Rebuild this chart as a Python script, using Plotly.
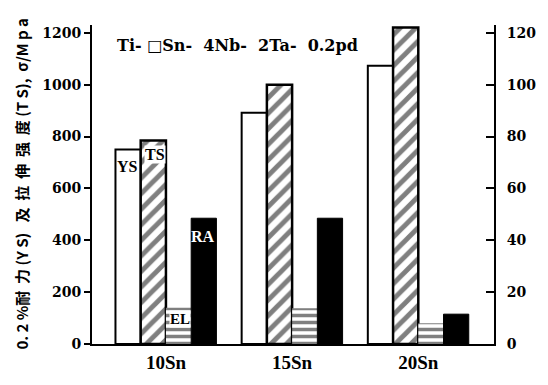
import plotly.graph_objects as go

categories = ["10Sn", "15Sn", "20Sn"]
ys_mpa = [750, 892, 1073]      # 0.2% yield strength (left axis)
ts_mpa = [785, 1000, 1220]     # tensile strength (left axis)
el_pct = [14, 13.8, 8]         # elongation (right axis)
ra_pct = [48.5, 48.5, 11.5]    # reduction of area (right axis)
left_ticks = [0, 200, 400, 600, 800, 1000, 1200]
right_ticks = [0, 20, 40, 60, 80, 100, 120]

serif = "Liberation Serif"
tickserif = "DejaVu Serif"
fig = go.Figure()
fig.add_trace(go.Bar(x=categories, y=ys_mpa, width=0.2, offset=-0.4,
                     marker=dict(color="white", line=dict(color="black", width=2)),
                     yaxis="y", showlegend=False))
fig.add_trace(go.Bar(x=categories, y=ts_mpa, width=0.2, offset=-0.2,
                     marker=dict(color="white", line=dict(color="black", width=2.5),
                                 pattern=dict(shape="/", fgcolor="black", bgcolor="white",
                                              size=11, solidity=0.45)),
                     yaxis="y", showlegend=False))
fig.add_trace(go.Bar(x=categories, y=el_pct, width=0.2, offset=0.0,
                     marker=dict(color="white", line=dict(color="white", width=0),
                                 pattern=dict(shape="-", fgcolor="black", bgcolor="white",
                                              size=7, solidity=0.5)),
                     yaxis="y2", showlegend=False))
fig.add_trace(go.Bar(x=categories, y=ra_pct, width=0.2, offset=0.2,
                     marker=dict(color="black", line=dict(color="black", width=1)),
                     yaxis="y2", showlegend=False))

# page body has an 8px margin; size the figure so the plot lands where the reference has it
PAD = 8
W, H = 540, 377
ml, mr, mt, mb = 84, 48, 17, 40
pw, ph = W - ml - mr, H - mt - mb


def px_x(sx):
    return (sx - PAD - ml) / pw


def px_y(sy):
    return (H - mb - (sy - PAD)) / ph


ann = []
ann.append(dict(text="YS", x=-0.305, y=685, xref="x", yref="y", showarrow=False,
                font=dict(family=serif, size=16, color="black", weight="bold")))
ann.append(dict(text="TS", x=-0.086, y=731, xref="x", yref="y", showarrow=False,
                bgcolor="white", borderpad=0,
                font=dict(family=serif, size=16, color="black", weight="bold")))
ann.append(dict(text="EL", x=0.11, y=9.6, xref="x", yref="y2", showarrow=False,
                bgcolor="white", borderpad=0,
                font=dict(family=serif, size=15, color="black", weight="bold")))
ann.append(dict(text="RA", x=0.297, y=41.5, xref="x", yref="y2", showarrow=False,
                font=dict(family=serif, size=16, color="white", weight="bold")))
ann.append(dict(text="Ti- □Sn-  4Nb-  2Ta-  0.2pd",
                x=px_x(240), y=px_y(46), xref="paper", yref="paper",
                xanchor="center", yanchor="middle", showarrow=False,
                font=dict(family="DejaVu Serif", size=16, color="black", weight="bold")))
ann.append(dict(text="0. 2 %耐  力 (Y S)   及  拉  伸  强  度 (T S),  σ/M p a",
                x=px_x(20), y=px_y(185), xref="paper", yref="paper",
                xanchor="center", yanchor="middle",
                textangle=-90, showarrow=False,
                font=dict(family="Noto Sans CJK SC", size=15, color="black", weight="bold")))

fig.update_layout(
    width=W, height=H, margin=dict(l=ml, r=mr, t=mt, b=mb),
    paper_bgcolor="white", plot_bgcolor="white", barmode="overlay",
    annotations=ann,
    xaxis=dict(range=[-0.586, 2.60], showline=True, linecolor="black", linewidth=2,
               ticks="", showgrid=False,
               tickfont=dict(family=serif, size=19, color="black", weight="bold")),
    yaxis=dict(range=[0, 1230], tickvals=left_ticks, showline=True, linecolor="black",
               linewidth=2, ticks="outside", ticklen=6, tickwidth=2, tickcolor="black",
               showgrid=False, zeroline=False,
               tickfont=dict(family=tickserif, size=14, color="black", weight="bold")),
    yaxis2=dict(range=[0, 123], tickvals=right_ticks, overlaying="y", side="right",
                showline=True, linecolor="black", linewidth=2, ticks="inside",
                ticklen=8, tickwidth=2, tickcolor="black", showgrid=False, zeroline=False,
                ticklabelstandoff=8,
                tickfont=dict(family=tickserif, size=14, color="black", weight="bold")),
)
fig.write_html("out.html")
